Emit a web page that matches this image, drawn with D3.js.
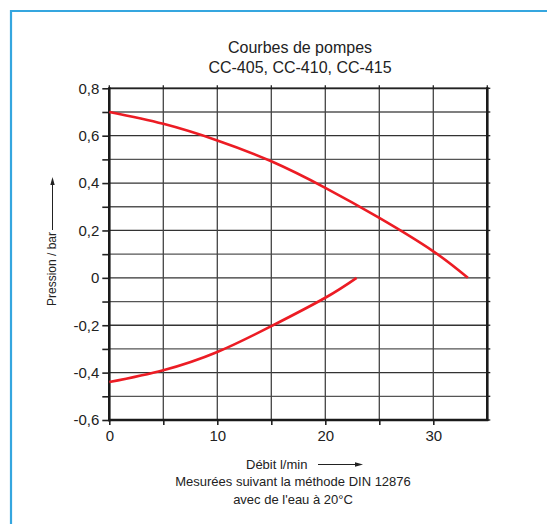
<!DOCTYPE html>
<html>
<head>
<meta charset="utf-8">
<script src="https://cdn.jsdelivr.net/npm/d3@7"></script>
<style>
  body { margin: 0; background: #fff; }
  text { font-family: "Liberation Sans", Arial, sans-serif; fill: #222; }
</style>
</head>
<body>
<div id="chart"></div>
<script>
var width = 547,
    height = 524;

// data
var titleLines = ["Courbes de pompes", "CC-405, CC-410, CC-415"];
var noteLines = ["Mesurées suivant la méthode DIN 12876", "avec de l'eau à 20°C"];
var flowTicks = [0, 10, 20, 30];
var flowGrid = [0, 5, 10, 15, 20, 25, 30, 35];
var pressureTicks = [0.8, 0.6, 0.4, 0.2, 0, -0.2, -0.4, -0.6];
var pressureGrid = [0.8, 0.7, 0.6, 0.5, 0.4, 0.3, 0.2, 0.1, 0, -0.1, -0.2, -0.3, -0.4, -0.5, -0.6];

var upperFlow = [0, 5, 10, 15, 20, 25, 30, 33.2];
var upperPressure = [0.70, 0.65, 0.58, 0.492, 0.38, 0.253, 0.112, 0.0];
var lowerFlow = [0, 5, 10, 15, 20, 22.9];
var lowerPressure = [-0.44, -0.39, -0.313, -0.204, -0.084, 0.0];

var x = d3.scaleLinear().domain([0, 35]).range([109.3, 487.3]);
var y = d3.scaleLinear().domain([-0.6, 0.8]).range([420, 88.3]);

var svg = d3.select("#chart").append("svg")
    .attr("width", width)
    .attr("height", height);

// blue frame, runs off the right and bottom
svg.append("path")
    .attr("d", "M11," + (height + 5) + "V11H" + (width + 5))
    .attr("fill", "none")
    .attr("stroke", "#35a6df")
    .attr("stroke-width", 2.2);

// title
svg.selectAll(".title")
    .data(titleLines)
  .enter().append("text")
    .attr("class", "title")
    .attr("x", 300)
    .attr("y", function(d, i) { return 53 + i * 19.5; })
    .attr("text-anchor", "middle")
    .style("font-size", "16px")
    .text(function(d) { return d; });

var plot = svg.append("g");

// grid
plot.selectAll(".hgrid")
    .data(pressureGrid)
  .enter().append("line")
    .attr("class", "hgrid")
    .attr("x1", x(0)).attr("x2", x(35))
    .attr("y1", function(d) { return y(d); })
    .attr("y2", function(d) { return y(d); })
    .attr("stroke", function(d, i) { return i % 2 ? "#555" : "#333"; })
    .attr("stroke-width", 1.3);

plot.selectAll(".vgrid")
    .data(flowGrid)
  .enter().append("line")
    .attr("class", "vgrid")
    .attr("y1", y(-0.6)).attr("y2", y(0.8))
    .attr("x1", function(d) { return x(d); })
    .attr("x2", function(d) { return x(d); })
    .attr("stroke", "#444")
    .attr("stroke-width", 1.3);

// small stubs on top and right
plot.selectAll(".topTick")
    .data(flowGrid)
  .enter().append("line")
    .attr("x1", function(d) { return x(d); })
    .attr("x2", function(d) { return x(d); })
    .attr("y1", y(0.8)).attr("y2", y(0.8) - 3)
    .attr("stroke", "#222").attr("stroke-width", 1.3);

plot.selectAll(".rightTick")
    .data(pressureGrid)
  .enter().append("line")
    .attr("y1", function(d) { return y(d); })
    .attr("y2", function(d) { return y(d); })
    .attr("x1", x(35)).attr("x2", x(35) + 3)
    .attr("stroke", "#222").attr("stroke-width", 1.3);

// frame of the plot
plot.append("line")
    .attr("x1", x(0)).attr("x2", x(35))
    .attr("y1", y(0.8)).attr("y2", y(0.8))
    .attr("stroke", "#222").attr("stroke-width", 1.8);
plot.append("line")
    .attr("x1", x(35)).attr("x2", x(35))
    .attr("y1", y(0.8) - 1).attr("y2", y(-0.6) + 1)
    .attr("stroke", "#1a1a1a").attr("stroke-width", 2.6);

// axes
var fmt = function(d) {
  return d === 0 ? "0" : d3.format(".1f")(d).replace(".", ",").replace("\u2212", "-");
};

var yAxis = d3.axisLeft(y)
    .tickValues(pressureGrid)
    .tickSize(7)
    .tickPadding(3)
    .tickFormat(function(d) { return pressureTicks.some(function(t) { return Math.abs(t - d) < 1e-9; }) ? fmt(d) : ""; });

var gy = svg.append("g")
    .attr("transform", "translate(" + x(0) + ",0)")
    .call(yAxis);

var xAxis = d3.axisBottom(x)
    .tickValues(flowGrid.slice(0, 7))
    .tickSize(5)
    .tickPadding(5)
    .tickFormat(function(d) { return flowTicks.indexOf(d) >= 0 ? d : ""; });

var gx = svg.append("g")
    .attr("transform", "translate(0," + y(-0.6) + ")")
    .call(xAxis);

[gx, gy].forEach(function(g) {
  g.select(".domain").remove();
  g.selectAll(".tick line").attr("stroke", "#222").attr("stroke-width", 1.6);
  g.selectAll("text")
      .attr("fill", "#2a2a2a")
      .style("font-family", "'Liberation Sans', Arial, sans-serif")
      .style("font-size", "15px");
});

svg.append("line")
    .attr("x1", x(0)).attr("x2", x(0))
    .attr("y1", y(0.8) - 1).attr("y2", y(-0.6) + 1.3)
    .attr("stroke", "#1a1a1a").attr("stroke-width", 2.6);
svg.append("line")
    .attr("x1", x(0) - 1).attr("x2", x(35) + 1)
    .attr("y1", y(-0.6)).attr("y2", y(-0.6))
    .attr("stroke", "#1a1a1a").attr("stroke-width", 2.6);

// pump curves
var line = d3.line()
    .x(function(d) { return x(d[0]); })
    .y(function(d) { return y(d[1]); })
    .curve(d3.curveNatural);

[[upperFlow, upperPressure], [lowerFlow, lowerPressure]].forEach(function(s) {
  svg.append("path")
      .datum(d3.zip(s[0], s[1]))
      .attr("d", line)
      .attr("fill", "none")
      .attr("stroke", "#ec1c24")
      .attr("stroke-width", 2.6);
});

// axis titles with arrows
svg.append("text")
    .attr("transform", "translate(56,269)rotate(-90)")
    .attr("text-anchor", "middle")
    .style("font-size", "12px")
    .text("Pression / bar");
svg.append("line")
    .attr("x1", 52.5).attr("x2", 52.5)
    .attr("y1", 230).attr("y2", 184)
    .attr("stroke", "#222").attr("stroke-width", 1);
svg.append("path")
    .attr("d", "M52.5,177L50.3,185L54.7,185Z")
    .attr("fill", "#222");

svg.append("text")
    .attr("x", 246)
    .attr("y", 469)
    .style("font-size", "13px")
    .text("Débit l/min");
svg.append("line")
    .attr("x1", 318).attr("x2", 356)
    .attr("y1", 464.5).attr("y2", 464.5)
    .attr("stroke", "#222").attr("stroke-width", 1);
svg.append("path")
    .attr("d", "M363,464.5L355,462.3L355,466.7Z")
    .attr("fill", "#222");

svg.selectAll(".note")
    .data(noteLines)
  .enter().append("text")
    .attr("class", "note")
    .attr("x", 293)
    .attr("y", function(d, i) { return 486 + i * 18; })
    .attr("text-anchor", "middle")
    .style("font-size", "13px")
    .text(function(d) { return d; });
</script>
</body>
</html>
